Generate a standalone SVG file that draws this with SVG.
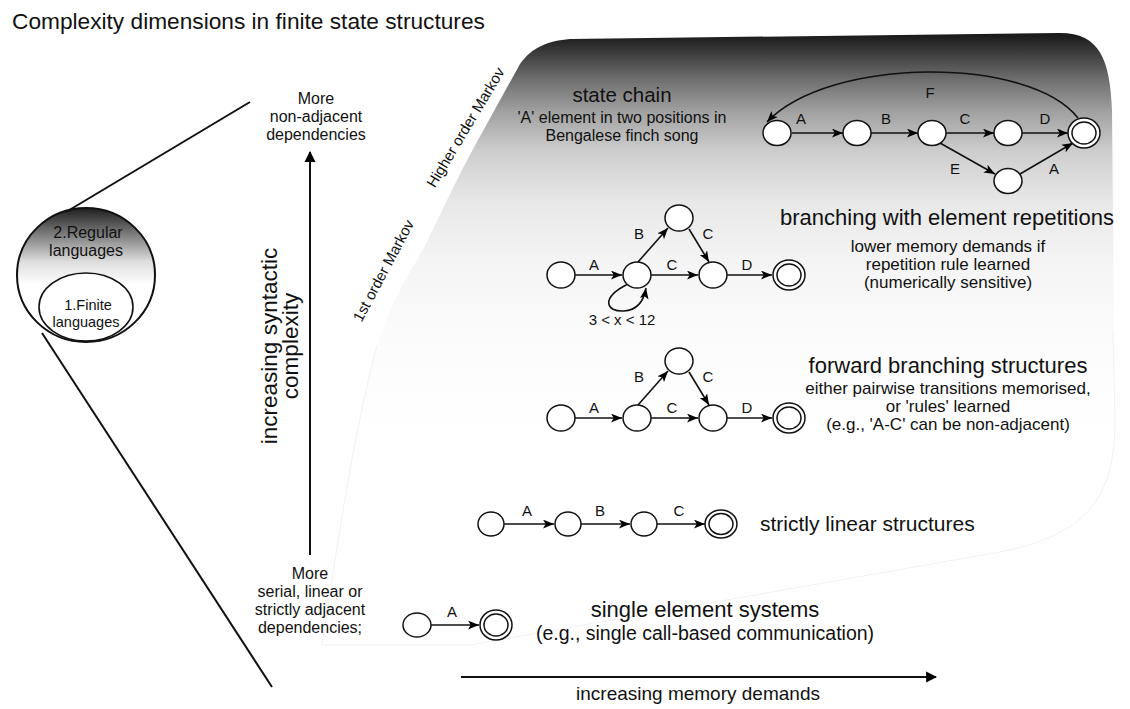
<svg xmlns="http://www.w3.org/2000/svg" width="1130" height="709" viewBox="0 0 1130 709">
<defs>
<linearGradient id="bg" gradientUnits="userSpaceOnUse" x1="0" y1="35" x2="0" y2="435">
<stop offset="0" stop-color="#1a1a1a"/>
<stop offset="0.11" stop-color="#6e6e6e"/>
<stop offset="0.19" stop-color="#a0a0a0"/>
<stop offset="0.29" stop-color="#cdcdcd"/>
<stop offset="0.41" stop-color="#e7e7e7"/>
<stop offset="0.56" stop-color="#f4f4f4"/>
<stop offset="0.74" stop-color="#fbfbfb"/>
<stop offset="1" stop-color="#fff"/>
</linearGradient>
<linearGradient id="cg" gradientUnits="userSpaceOnUse" x1="0" y1="208" x2="0" y2="285">
<stop offset="0" stop-color="#1e1e1e"/>
<stop offset="0.35" stop-color="#7e7e7e"/>
<stop offset="0.7" stop-color="#dedede"/>
<stop offset="1" stop-color="#fff"/>
</linearGradient>
<marker id="ah" viewBox="0 0 10 8" refX="10" refY="4" markerWidth="11" markerHeight="9" markerUnits="userSpaceOnUse" orient="auto">
<path d="M0,0 L10,4 L0,8 L2.5,4 Z" fill="#000"/>
</marker>
<marker id="ahb" viewBox="0 0 10 10" refX="9" refY="5" markerWidth="11" markerHeight="13" markerUnits="userSpaceOnUse" orient="auto">
<path d="M0,0 L10,5 L0,10 Z" fill="#000"/>
</marker>
</defs>
<style>
text{font-family:"Liberation Sans",Arial,sans-serif;fill:#111}
.n{fill:#fff;stroke:#111;stroke-width:1.5}
.e{fill:none;stroke:#111;stroke-width:1.6;marker-end:url(#ah)}
.l{font-size:15px;text-anchor:middle}
.h{font-size:22px;text-anchor:middle}
.s{font-size:17px;text-anchor:middle}
.m{font-size:16px;text-anchor:middle}
.c{font-size:14.5px;text-anchor:middle}
.big{fill:none;stroke:#111;stroke-width:2}
</style>
<rect width="1130" height="709" fill="#fff"/>
<text x="12" y="29" style="font-size:22.7px">Complexity dimensions in finite state structures</text>

<path id="shade" d="M570,39 L1060,33 C1100,33 1110,60 1112,110 L1115,420 C1115,500 1085,535 1000,552 L470,645 L322,645 C335,560 352,440 377,345 C390,305 405,280 423,250 C440,215 460,172 478,140 L520,64 C532,47 548,41 570,39 Z" fill="url(#bg)"/>
<path d="M1113,330 L1115,420 C1115,500 1085,535 1000,552 L470,645 L322,645 C335,560 352,440 377,345" fill="none" stroke="#f2f2f2" stroke-width="1"/>

<g id="language-circles">
<ellipse cx="86" cy="275" rx="69" ry="67" fill="url(#cg)" stroke="#111" stroke-width="2"/>
<ellipse cx="86" cy="307" rx="47" ry="34" fill="#fff" stroke="#111" stroke-width="1.6"/>
<text x="88" y="238" class="m">2.Regular</text>
<text x="86" y="256" class="m">languages</text>
<text x="88" y="310" class="c">1.Finite</text>
<text x="86" y="327" class="c">languages</text>
</g>
<g id="funnel">
<line x1="66" y1="212" x2="250" y2="102" class="big"/>
<line x1="42" y1="333" x2="272" y2="687" class="big"/>
</g>
<g id="axis-labels">
<text class="m" x="316" y="104">More</text>
<text class="m" x="316" y="122">non-adjacent</text>
<text class="m" x="316" y="140">dependencies</text>
<text class="m" x="310" y="579">More</text>
<text class="m" x="310" y="597">serial, linear or</text>
<text class="m" x="310" y="615">strictly adjacent</text>
<text class="m" x="310" y="633">dependencies;</text>
<text transform="translate(277,346) rotate(-90)" style="font-size:22.5px;text-anchor:middle">increasing syntactic</text>
<text transform="translate(298,346) rotate(-90)" style="font-size:22.5px;text-anchor:middle">complexity</text>
<text transform="translate(470,130) rotate(-59)" style="font-size:15px;text-anchor:middle">Higher order Markov</text>
<text transform="translate(388,273) rotate(-62)" style="font-size:15px;text-anchor:middle">1st order Markov</text>
<text x="698" y="700" style="font-size:19px;text-anchor:middle">increasing memory demands</text>
</g>

<g id="connectors">
<line x1="310" y1="555" x2="310" y2="152" stroke="#111" stroke-width="2" marker-end="url(#ahb)"/>
<line x1="461" y1="677" x2="936" y2="677" stroke="#111" stroke-width="2" marker-end="url(#ahb)"/>
<line class="e" x1="792" y1="133" x2="843" y2="133"/>
<line class="e" x1="871" y1="133" x2="918" y2="133"/>
<line class="e" x1="946" y1="133" x2="994" y2="133"/>
<line class="e" x1="1022" y1="133" x2="1068" y2="133"/>
<line class="e" x1="940" y1="143" x2="995" y2="174"/>
<line class="e" x1="1020" y1="174" x2="1073" y2="143"/>
<path class="e" d="M1078,118 C1030,56 830,56 767,122"/>
<line class="e" x1="575" y1="275" x2="622" y2="275"/>
<line class="e" x1="651" y1="275" x2="698" y2="275"/>
<line class="e" x1="727" y1="275" x2="772" y2="275"/>
<line class="e" x1="638" y1="262" x2="668" y2="228"/>
<line class="e" x1="689" y1="229" x2="709" y2="262"/>
<path class="e" d="M628,284 C600,298 606,312 624,311 C638,310 644,300 646,288"/>
<line class="e" x1="575" y1="418" x2="622" y2="418"/>
<line class="e" x1="651" y1="418" x2="698" y2="418"/>
<line class="e" x1="727" y1="418" x2="772" y2="418"/>
<line class="e" x1="638" y1="405" x2="668" y2="371"/>
<line class="e" x1="689" y1="372" x2="709" y2="405"/>
<line class="e" x1="504" y1="524" x2="554" y2="524"/>
<line class="e" x1="581" y1="524" x2="630" y2="524"/>
<line class="e" x1="657" y1="524" x2="705" y2="524"/>
<line class="e" x1="431" y1="625" x2="479" y2="625"/>
</g>

<g id="state-chain">
<ellipse class="n" cx="777" cy="133" rx="14" ry="12.5"/>
<ellipse class="n" cx="857" cy="133" rx="14" ry="12.5"/>
<ellipse class="n" cx="932" cy="133" rx="14" ry="12.5"/>
<ellipse class="n" cx="1008" cy="133" rx="14" ry="12.5"/>
<ellipse class="n" cx="1008" cy="181" rx="14" ry="12.5"/>
<ellipse class="n" cx="1084" cy="133" rx="16" ry="15"/>
<ellipse class="n" cx="1084" cy="133" rx="12" ry="11"/>
<text class="l" x="801" y="124">A</text>
<text class="l" x="886" y="124">B</text>
<text class="l" x="965" y="124">C</text>
<text class="l" x="1045" y="124">D</text>
<text class="l" x="955" y="174">E</text>
<text class="l" x="1054" y="174">A</text>
<text class="l" x="930" y="98">F</text>
<text x="622" y="102" style="font-size:20.5px;text-anchor:middle">state chain</text>
<text class="m" x="622" y="123">'A' element in two positions in</text>
<text class="m" x="622" y="141">Bengalese finch song</text>
</g>

<g id="branching-repetitions">
<ellipse class="n" cx="561" cy="275" rx="14" ry="13"/>
<ellipse class="n" cx="637" cy="275" rx="14" ry="13"/>
<ellipse class="n" cx="679" cy="218" rx="14" ry="13"/>
<ellipse class="n" cx="713" cy="275" rx="14" ry="13"/>
<ellipse class="n" cx="789" cy="275" rx="16" ry="15"/>
<ellipse class="n" cx="789" cy="275" rx="12" ry="11"/>
<text class="l" x="594" y="270">A</text>
<text class="l" x="639" y="239">B</text>
<text class="l" x="708" y="239">C</text>
<text class="l" x="672" y="270">C</text>
<text class="l" x="747" y="270">D</text>
<text class="l" x="622" y="325">3 &lt; x &lt; 12</text>
<text class="h" x="947" y="225">branching with element repetitions</text>
<text class="s" x="948" y="252">lower memory demands if</text>
<text class="s" x="948" y="270">repetition rule learned</text>
<text class="s" x="948" y="288">(numerically sensitive)</text>
</g>

<g id="forward-branching">
<ellipse class="n" cx="561" cy="418" rx="14" ry="13"/>
<ellipse class="n" cx="637" cy="418" rx="14" ry="13"/>
<ellipse class="n" cx="679" cy="361" rx="14" ry="13"/>
<ellipse class="n" cx="713" cy="418" rx="14" ry="13"/>
<ellipse class="n" cx="789" cy="418" rx="16" ry="15"/>
<ellipse class="n" cx="789" cy="418" rx="12" ry="11"/>
<text class="l" x="594" y="413">A</text>
<text class="l" x="639" y="382">B</text>
<text class="l" x="708" y="382">C</text>
<text class="l" x="672" y="413">C</text>
<text class="l" x="747" y="413">D</text>
<text class="h" x="948" y="373">forward branching structures</text>
<text class="s" x="948" y="394">either pairwise transitions memorised,</text>
<text class="s" x="948" y="412">or 'rules' learned</text>
<text class="s" x="948" y="430">(e.g., 'A-C' can be non-adjacent)</text>
</g>

<g id="strictly-linear">
<ellipse class="n" cx="491" cy="524" rx="13" ry="12"/>
<ellipse class="n" cx="568" cy="524" rx="13" ry="12"/>
<ellipse class="n" cx="644" cy="524" rx="13" ry="12"/>
<ellipse class="n" cx="721" cy="524" rx="16" ry="14"/>
<ellipse class="n" cx="721" cy="524" rx="12" ry="10.5"/>
<text class="l" x="527" y="516">A</text>
<text class="l" x="600" y="516">B</text>
<text class="l" x="679" y="516">C</text>
<text x="760" y="531" style="font-size:21px">strictly linear structures</text>
</g>

<g id="single-element">
<ellipse class="n" cx="417" cy="625" rx="14" ry="12"/>
<ellipse class="n" cx="496" cy="625" rx="16" ry="15"/>
<ellipse class="n" cx="496" cy="625" rx="12" ry="11"/>
<text class="l" x="452" y="617">A</text>
<text class="h" x="705" y="617">single element systems</text>
<text x="705" y="640" style="font-size:19.5px;text-anchor:middle">(e.g., single call-based communication)</text>
</g>
</svg>
